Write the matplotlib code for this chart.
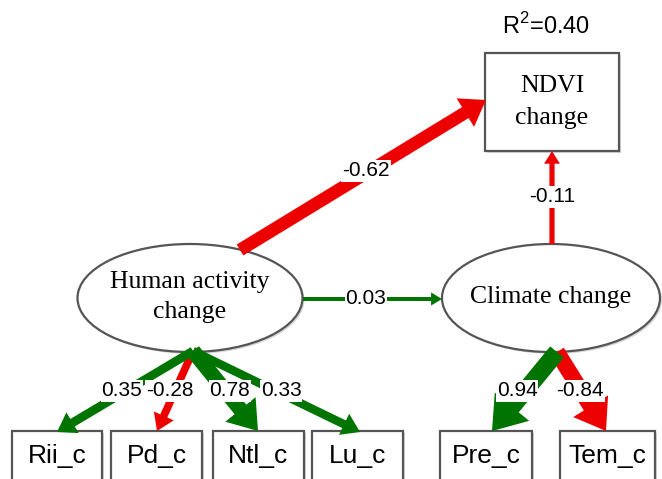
import matplotlib
matplotlib.use("Agg")
import matplotlib.pyplot as plt
from matplotlib.patches import Ellipse, Rectangle, FancyArrow

# path coefficients of the structural equation model
human_indicators = ["Rii_c", "Pd_c", "Ntl_c", "Lu_c"]
human_loadings = [0.35, -0.28, 0.78, 0.33]
climate_indicators = ["Pre_c", "Tem_c"]
climate_loadings = [0.94, -0.84]
coef_human_ndvi = -0.62
coef_climate_ndvi = -0.11
coef_human_climate = 0.03
r2_ndvi = 0.40

RED = "#ec0000"
GREEN = "#007400"
EDGE = "#555555"
SANS = "Liberation Sans"
SERIF = "Liberation Serif"

# layout in pixel units (y goes down)
W, H = 662, 479
human_c, human_wh = (190, 298), (225, 108)
climate_c, climate_wh = (551, 298), (218, 108)
ndvi_box = (485, 53, 134, 98)
box_top, box_h = 431, 70
human_boxes = [(12, 90), (111, 91), (213, 91), (312, 91)]
climate_boxes = [(440, 92), (560, 95)]
human_tail = (193, 351)
climate_tail = (557, 352)
label_y = 391


def arrow(ax, p0, p1, coef, z=3):
    w = 3.5 + 15 * abs(coef)
    col = RED if coef < 0 else GREEN
    a = FancyArrow(p0[0], p0[1], p1[0] - p0[0], p1[1] - p0[1], width=w,
                   head_width=2.3 * w + 4, head_length=1.5 * w + 5,
                   length_includes_head=True, color=col, lw=0, zorder=z)
    ax.add_patch(a)


def num(ax, x, y, coef):
    ax.text(x, y, f"{coef:.2f}", ha="center", va="center", fontsize=15,
            family=SANS, zorder=6,
            bbox=dict(boxstyle="square,pad=0.05", fc="white", ec="none"))


def box(ax, x, y, w, h, z=2):
    ax.add_patch(Rectangle((x + 2, y + 2), w, h, fc="#d4d4d4", ec="none", zorder=z - 0.5))
    ax.add_patch(Rectangle((x, y), w, h, fc="white", ec=EDGE, lw=1.6, zorder=z))


fig = plt.figure(figsize=(W / 100, H / 100), dpi=100)
ax = fig.add_axes([0, 0, 1, 1])
ax.set_xlim(0, W)
ax.set_ylim(H, 0)
ax.axis("off")

# latent variables
for c, wh, in [(human_c, human_wh), (climate_c, climate_wh)]:
    ax.add_patch(Ellipse((c[0] + 2, c[1] + 2), *wh, fc="#d9d9d9", ec="none", zorder=1))
    ax.add_patch(Ellipse(c, *wh, fc="white", ec=EDGE, lw=1.6, zorder=2))
ax.text(human_c[0], 282, "Human activity", ha="center", va="center", fontsize=18.5, family=SERIF, zorder=4)
ax.text(human_c[0], 312, "change", ha="center", va="center", fontsize=18.5, family=SERIF, zorder=4)
ax.text(climate_c[0], 297, "Climate change", ha="center", va="center", fontsize=18.5, family=SERIF, zorder=4)

# NDVI box
box(ax, *ndvi_box)
ax.text(552, 86, "NDVI", ha="center", va="center", fontsize=18.5, family=SERIF, zorder=4)
ax.text(552, 118, "change", ha="center", va="center", fontsize=18.5, family=SERIF, zorder=4)
ax.text(546, 26, r"R$^\mathregular{2}$=" + f"{r2_ndvi:.2f}", ha="center", va="center",
        fontsize=17, family=SANS)

# observed indicators
for name, (x, w) in zip(human_indicators + climate_indicators, human_boxes + climate_boxes):
    box(ax, x, box_top, w, box_h)
    ax.text(x + w / 2, 463, name, ha="center", va="baseline", fontsize=19, family=SANS, zorder=4)

# structural paths
arrow(ax, (240, 250), (486, 100), coef_human_ndvi)
num(ax, 366, 171, coef_human_ndvi)
arrow(ax, (552, 244), (552, 151), coef_climate_ndvi)
num(ax, 552, 197, coef_climate_ndvi)
arrow(ax, (303, 299), (442, 299), coef_human_climate)
num(ax, 366, 299, coef_human_climate)

# measurement paths
human_tips = [(57, 432), (157, 431), (258, 431), (360, 432)]
human_lx = [122, 170, 230, 281]
order = sorted(range(len(human_loadings)), key=lambda i: human_loadings[i] > 0)
for i in order:
    arrow(ax, human_tail, human_tips[i], human_loadings[i], z=3 + (human_loadings[i] > 0))
for i, c in enumerate(human_loadings):
    num(ax, human_lx[i], label_y, c)

climate_tips = [(492, 431), (606, 431)]
climate_lx = [517, 580]
for i, c in enumerate(climate_loadings):
    arrow(ax, climate_tail, climate_tips[i], c, z=3 + (c > 0))
    num(ax, climate_lx[i], label_y, c)

fig.savefig("out.png", dpi=100)
